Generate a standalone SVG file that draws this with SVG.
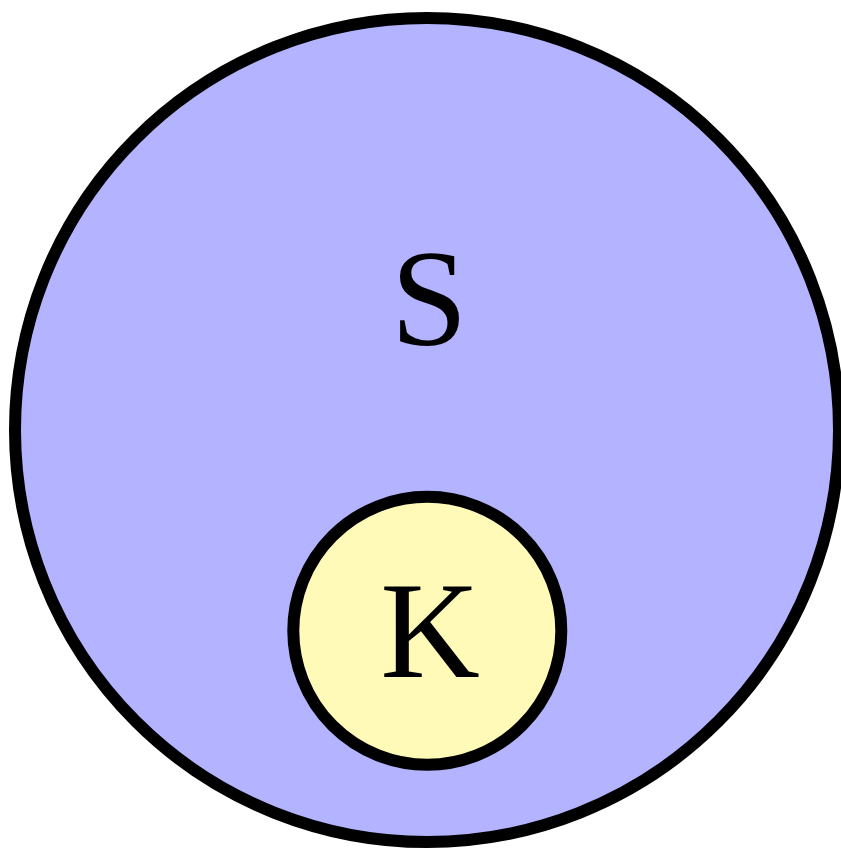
<svg xmlns="http://www.w3.org/2000/svg" width="841" height="848" viewBox="0 0 841 848">
<style>
.c{stroke:#000;stroke-width:12}
.t{font-family:"Liberation Serif","Times New Roman",serif;font-size:138px;fill:#000;text-anchor:middle}
</style>
<rect width="841" height="848" fill="#fff"/>
<g id="S">
<circle class="c" cx="427" cy="430" r="412" fill="#b3b3ff"/>
<text class="t" x="429" y="345">S</text>
</g>
<g id="K">
<circle class="c" cx="427.3" cy="630.8" r="134" fill="#fffab8"/>
<text class="t" x="430" y="677">K</text>
</g>
<g id="connectors"/>
</svg>
